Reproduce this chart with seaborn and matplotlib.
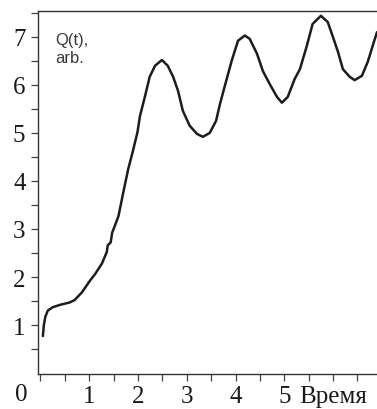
import pandas as pd
import matplotlib
matplotlib.use("Agg")
import matplotlib.pyplot as plt
import seaborn as sns

# values
t = [0.05, 0.07, 0.10, 0.15, 0.25, 0.40, 0.60, 0.70, 0.85, 1.02, 1.12, 1.26, 1.36, 1.38,
     1.44, 1.47, 1.53, 1.60, 1.70, 1.80, 1.89, 1.99, 2.04, 2.14, 2.24, 2.35, 2.49, 2.61,
     2.72, 2.82, 2.92, 3.06, 3.21, 3.33, 3.47, 3.60, 3.68, 3.78, 3.92, 4.05, 4.19, 4.29,
     4.44, 4.56, 4.70, 4.85, 4.95, 5.07, 5.21, 5.32, 5.46, 5.58, 5.75, 5.89, 5.99, 6.10,
     6.20, 6.34, 6.44, 6.59, 6.71, 6.81, 6.90]
q = [0.77, 1.00, 1.17, 1.30, 1.37, 1.42, 1.47, 1.52, 1.68, 1.93, 2.06, 2.28, 2.52, 2.66,
     2.72, 2.92, 3.08, 3.27, 3.77, 4.25, 4.60, 5.02, 5.35, 5.75, 6.17, 6.40, 6.52, 6.40,
     6.17, 5.88, 5.46, 5.15, 4.98, 4.92, 5.00, 5.25, 5.60, 5.98, 6.50, 6.92, 7.03, 6.96,
     6.65, 6.29, 6.02, 5.75, 5.63, 5.75, 6.12, 6.33, 6.81, 7.27, 7.44, 7.31, 7.02, 6.69,
     6.33, 6.17, 6.10, 6.19, 6.48, 6.81, 7.10]

xticks = [1, 2, 3, 4, 5, 6]
xlabels = ["1", "2", "3", "4", "5", "Время"]
yticks = [1, 2, 3, 4, 5, 6, 7]

df = pd.DataFrame({"t": t, "Q": q})

sns.set_style("ticks")
plt.rcParams['font.family'] = ['Liberation Serif', 'DejaVu Serif']

fig = plt.figure(figsize=(3.77, 4.10), dpi=100)
ax = fig.add_axes([38 / 377, 35 / 410, 339 / 377, 363 / 410])

sns.lineplot(data=df, x="t", y="Q", ax=ax, color="#1c1c1c", linewidth=1.8, sort=False,
             solid_joinstyle="round", solid_capstyle="round")

ax.set_xlim(-0.05, 6.9)
ax.set_ylim(-0.02, 7.54)
ax.set_xticks(xticks)
ax.set_xticklabels(xlabels)
ax.set_xticks([0] + [x + 0.5 for x in range(0, 7)], minor=True)
ax.set_yticks(yticks)
ax.set_yticks([y + 0.5 for y in range(0, 8)], minor=True)
ax.set_xlabel("")
ax.set_ylabel("")

for s in ["left", "bottom", "top"]:
    ax.spines[s].set_visible(True)
    ax.spines[s].set_color("#333333")
    ax.spines[s].set_linewidth(1.0)
ax.spines["right"].set_visible(False)

ax.tick_params(axis="both", which="both", direction="out", length=5, width=0.9,
               color="#444444", labelsize=18, labelcolor="#1a1a1a")
ax.tick_params(axis="y", pad=4)
ax.tick_params(axis="x", pad=3)

fig.text(21 / 377, 1 - 395 / 410, "0", fontsize=18, color="#1a1a1a",
         ha="center", va="center")

ax.text(17 / 339, 1 - 21 / 363, "Q(t),\narb.", transform=ax.transAxes,
        family=["Liberation Sans", "DejaVu Sans"], fontsize=12, color="#3a3a3a",
        ha="left", va="top", linespacing=1.25)

fig.savefig("out.png", dpi=100)
